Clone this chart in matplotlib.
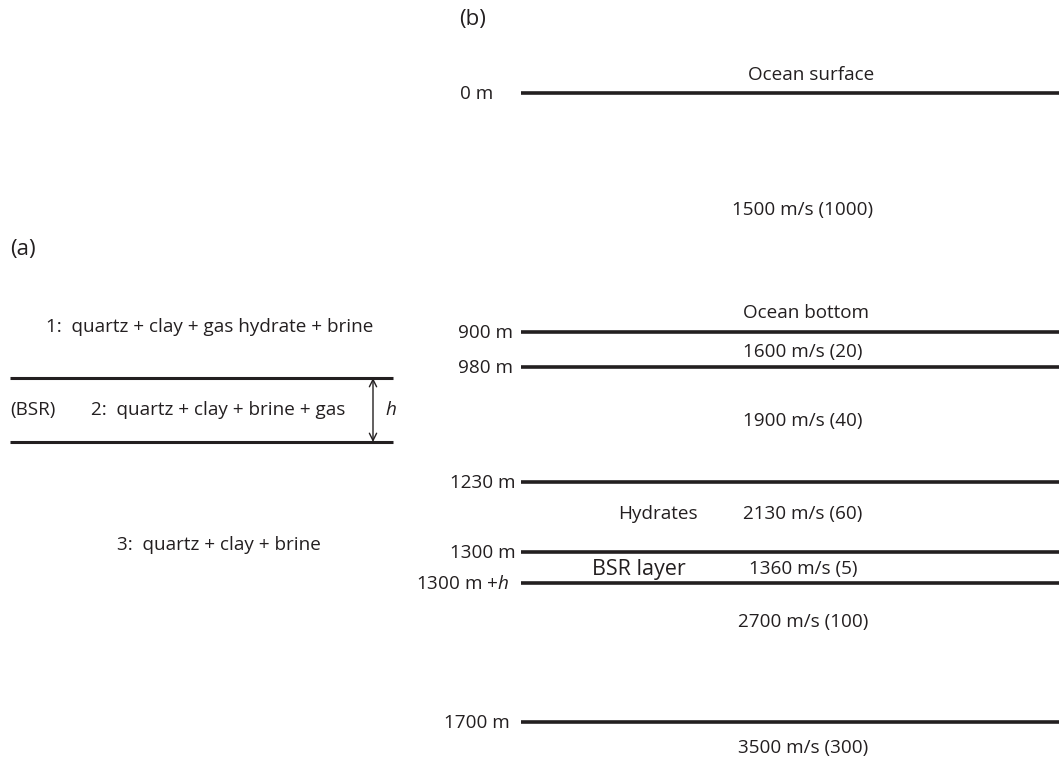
import matplotlib
matplotlib.use("Agg")
import matplotlib.pyplot as plt

plt.rcParams["font.family"] = ["Open Sans", "DejaVu Sans"]
plt.rcParams["mathtext.fontset"] = "custom"
plt.rcParams["mathtext.rm"] = "Open Sans"
plt.rcParams["mathtext.it"] = "Open Sans:italic"

# Panel (b): layered model
depth_labels = ["0 m", "900 m", "980 m", "1230 m", "1300 m", "1300 m +$\\mathit{h}$", "1700 m"]
velocity_labels = ["1500 m/s (1000)", "1600 m/s (20)", "1900 m/s (40)", "2130 m/s (60)",
                   "1360 m/s (5)", "2700 m/s (100)", "3500 m/s (300)"]
boundary_names = ["Ocean surface", "Ocean bottom"]
zone_names = ["Hydrates", "BSR layer"]

# Panel (a): rock compositions
composition_labels = ["1:  quartz + clay + gas hydrate + brine",
                      "2:  quartz + clay + brine + gas",
                      "3:  quartz + clay + brine"]

# layout (pixel coordinates on the canvas)
W, H = 1059, 759
line_y = [93, 332, 367, 482, 552, 583, 722]
label_right = [493, 513, 513, 516, 516, 509, 510]
vel_y = [210, 352, 421, 514, 569, 622, 748]
vel_x = 803

fig = plt.figure(figsize=(W / 100, H / 100), dpi=100)
ax = fig.add_axes([0, 0, 1, 1])
ax.set_xlim(0, W)
ax.set_ylim(H, 0)
ax.axis("off")

fs = 13.6
lc = "#231f20"

# panel (b)
ax.text(459, 20, "(b)", fontsize=16, ha="left", va="center", color=lc)
ax.hlines(line_y, 521, W, colors=lc, lw=2.6)
for y, xr, lab in zip(line_y, label_right, depth_labels):
    ax.text(xr, y + 1, lab, fontsize=fs, ha="right", va="center", color=lc)
for y, lab in zip(vel_y, velocity_labels):
    ax.text(vel_x, y, lab, fontsize=fs, ha="center", va="center", color=lc)
ax.text(811, 75, boundary_names[0], fontsize=fs, ha="center", va="center", color=lc)
ax.text(806, 313, boundary_names[1], fontsize=fs, ha="center", va="center", color=lc)
ax.text(658, 514, zone_names[0], fontsize=fs, ha="center", va="center", color=lc)
ax.text(639, 569, zone_names[1], fontsize=15.5, ha="center", va="center", color=lc)

# panel (a)
ax.text(10, 250, "(a)", fontsize=16, ha="left", va="center", color=lc)
ax.hlines([378, 442], 10, 393, colors=lc, lw=2.2)
ax.annotate("", xy=(373, 378), xytext=(373, 442),
            arrowprops=dict(arrowstyle="<->", lw=1.0, color=lc,
                            shrinkA=0, shrinkB=0, mutation_scale=13))
ax.text(385, 410, "h", fontsize=fs, style="italic", ha="left", va="center", color=lc)
ax.text(10, 410, "(BSR)", fontsize=fs, ha="left", va="center", color=lc)
ax.text(46, 327, composition_labels[0], fontsize=fs, ha="left", va="center", color=lc)
ax.text(91, 410, composition_labels[1], fontsize=fs, ha="left", va="center", color=lc)
ax.text(117, 545, composition_labels[2], fontsize=fs, ha="left", va="center", color=lc)

fig.savefig("out.png", dpi=100, facecolor="white")
